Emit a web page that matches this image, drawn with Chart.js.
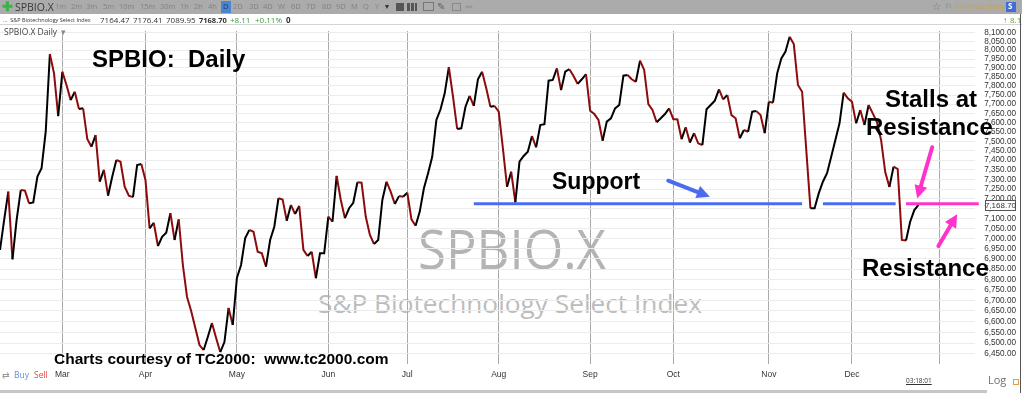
<!DOCTYPE html>
<html>
<head>
<meta charset="utf-8">
<script src="https://cdn.jsdelivr.net/npm/chart.js@4.4.1/dist/chart.umd.min.js"></script>
<style>
  body { margin: 0; width: 1022px; height: 393px; overflow: hidden; position: relative; background: #fff; font-family: "Open Sans", sans-serif; }
  .a { position: absolute; white-space: pre; line-height: 1; }
  #chart { position: absolute; left: 0; top: 0; z-index: 1; }
  .wm { color: #b4b4b4; z-index: 0; transform-origin: left top; }
  .note { font-family: "Liberation Sans", Arial, sans-serif; font-weight: bold; color: #000; z-index: 2; }
  .tb { top: 3px; font-size: 7.5px; color: #828282; z-index: 2; }
  .r2 { top: 16px; font-size: 8px; color: #333; z-index: 2; }
  .ic { position: absolute; top: 3px; height: 8px; z-index: 2; }
</style>
</head>
<body>
<!-- toolbar -->
<div class="a" style="left:0;top:0;width:1022px;height:14px;background:#ababab;z-index:1"></div>
<div class="a" style="left:2px;top:0px;font-size:13px;color:#3bb34a;font-weight:bold;z-index:2">✚</div>
<div class="a" style="left:15px;top:1.5px;font-size:10.5px;color:#3a3a3a;z-index:2">SPBIO.X</div>
<span class="a tb" style="left:55px">1m</span><span class="a tb" style="left:71px">2m</span><span class="a tb" style="left:86px">3m</span>
<span class="a tb" style="left:103px">5m</span><span class="a tb" style="left:119px">10m</span><span class="a tb" style="left:140px">15m</span>
<span class="a tb" style="left:160px">30m</span><span class="a tb" style="left:180px">1h</span><span class="a tb" style="left:194px">2h</span>
<span class="a tb" style="left:208px">4h</span>
<div class="a" style="left:221px;top:1px;width:10px;height:12px;background:#4a86d0;z-index:2"></div>
<span class="a tb" style="left:223px;color:#1d3b66">D</span>
<span class="a tb" style="left:233px">2D</span><span class="a tb" style="left:249px">3D</span><span class="a tb" style="left:263px">4D</span>
<span class="a tb" style="left:278px">W</span><span class="a tb" style="left:291px">6D</span><span class="a tb" style="left:306px">7D</span>
<span class="a tb" style="left:322px">8D</span><span class="a tb" style="left:336px">9D</span><span class="a tb" style="left:351px">M</span>
<span class="a tb" style="left:363px">Q</span><span class="a tb" style="left:375px">Y</span><span class="a tb" style="left:385px;color:#333">▾</span>
<div class="ic" style="left:396px;width:8px;background:#555"></div>
<div class="ic" style="left:407px;width:10px;background:linear-gradient(90deg,#555 0 3px,transparent 3px 4px,#555 4px 7px,transparent 7px 8px,#555 8px)"></div>
<div class="ic" style="left:423px;width:9px;border:1px solid #777;height:7px;top:2px"></div>
<div class="a" style="left:437px;top:1px;font-size:10px;color:#666;z-index:2">✎</div>
<div class="ic" style="left:452px;width:7px;border:1px solid #888;height:6px;top:3px"></div>
<div class="a" style="left:465px;top:1px;font-size:10px;color:#999;z-index:2">➦</div>
<div class="a" style="left:932px;top:1px;font-size:10px;color:#777;z-index:2">☆</div>
<div class="a" style="left:945px;top:2px;font-size:8px;color:#777;z-index:2">⚐</div>
<div class="a" style="left:955px;top:4px;font-size:6.5px;color:#c9a148;z-index:2">15-Minute Delayed</div>
<div class="a" style="left:1006px;top:2px;width:10px;height:10px;background:#3f6fd6;color:#fff;font-size:8px;font-weight:bold;z-index:2"> S</div>
<!-- quote row -->
<div class="a" style="left:0;top:24px;width:1022px;height:1px;background:#d4d4d4;z-index:2"></div>
<span class="a r2" style="left:3px;font-size:5.5px;top:18px">...  S&amp;P Biotechnology Select Index</span>
<span class="a r2" style="left:100px">7164.47</span><span class="a r2" style="left:133px">7176.41</span>
<span class="a r2" style="left:166px">7089.95</span><span class="a r2" style="left:199px;font-weight:bold;font-size:7.5px;top:16.5px">7168.70</span>
<span class="a r2" style="left:230px;color:#3a9c3a">+8.11</span><span class="a r2" style="left:255px;color:#3a9c3a">+0.11%</span>
<span class="a r2" style="left:286px;font-weight:bold">0</span>
<span class="a r2" style="left:1003px;color:#27b327;font-weight:bold">↑</span><span class="a r2" style="left:1010px;color:#6b9a2c">8.11</span>
<div class="a" style="left:4px;top:28px;font-size:8.5px;color:#444;z-index:2">SPBIO.X Daily  <span style="color:#888">▾</span></div>
<!-- watermark -->
<div class="a wm" id="wm1" style="left:418px;top:221px;font-size:54px">SPBIO.X</div>
<div class="a wm" id="wm2" style="left:318px;top:290px;font-size:26px;color:#bcbcbc">S&amp;P Biotechnology Select Index</div>
<canvas id="chart" width="1022" height="393"></canvas>
<!-- notes -->
<div class="a note" style="left:92px;top:47px;font-size:24px">SPBIO:  Daily</div>
<div class="a note" style="left:552px;top:170px;font-size:23px">Support</div>
<div class="a note" style="left:885px;top:87px;font-size:24px">Stalls at</div>
<div class="a note" style="left:866px;top:115px;font-size:24px">Resistance</div>
<div class="a note" style="left:862px;top:256px;font-size:24px">Resistance</div>
<div class="a note" style="left:54px;top:351px;font-size:15.5px">Charts courtesy of TC2000:  www.tc2000.com</div>
<!-- bottom strip -->
<div class="a" style="left:2px;top:370px;font-size:9px;color:#9a9a9a;z-index:2">⇄</div>
<div class="a" style="left:14px;top:371px;font-size:8.5px;color:#5b8fe0;z-index:2">Buy</div>
<div class="a" style="left:34px;top:371px;font-size:8.5px;color:#e64545;z-index:2">Sell</div>
<div class="a" style="left:906px;top:378px;font-size:6.5px;color:#333;text-decoration:underline;z-index:2">03:18:01</div>
<div class="a" style="left:988px;top:374px;font-size:11px;color:#707070;z-index:2">Log</div>
<div class="a" style="left:1013px;top:379px;width:4px;height:4px;border:1px solid #e0a040;z-index:2"></div>
<div class="a" style="left:0;top:390px;width:987px;height:3px;background:#c6c6c6;z-index:2"></div>
<div class="a" style="left:1020px;top:14px;width:1px;height:379px;background:#555;z-index:2"></div>

<script>
// daily closes, one per trading day
const closes = [
  6944, 7093, 7237, 6898, 7093, 7245, 7242, 7177, 7182, 7314,
  7358, 7551, 7979, 7870, 7635, 7879, 7805, 7722, 7768, 7673,
  7677, 7512, 7471, 7533, 7288, 7349, 7216, 7314, 7401, 7392,
  7262, 7216, 7209, 7375, 7380, 7297, 7051, 7079, 6963, 7009,
  7029, 7127, 6993, 7096, 6870, 6716, 6650, 6570, 6491, 6468,
  6528, 6593, 6524, 6459, 6505, 6664, 6584, 6807, 6870, 7003,
  7043, 7034, 6935, 6927, 6862, 6993, 7059, 7203, 7197, 7089,
  7169, 7123, 7164, 6944, 6914, 6935, 6806, 6927, 6927, 7110,
  7084, 7318, 7194, 7102, 7152, 7180, 7285, 7283, 7110, 7018,
  6973, 6993, 7194, 7288, 7237, 7174, 7214, 7211, 7231, 7096,
  7064, 7135, 7254, 7332, 7418, 7614, 7672, 7759, 7904, 7741,
  7566, 7569, 7686, 7745, 7690, 7837, 7879, 7787, 7686, 7690,
  7659, 7464, 7262, 7340, 7182, 7392, 7422, 7445, 7528, 7468,
  7587, 7591, 7829, 7833, 7898, 7777, 7879, 7893, 7855, 7811,
  7837, 7865, 7664, 7646, 7614, 7503, 7605, 7623, 7677, 7695,
  7857, 7861, 7837, 7823, 7941, 7889, 7700, 7668, 7602, 7623,
  7646, 7677, 7619, 7617, 7511, 7575, 7493, 7543, 7489, 7480,
  7672, 7695, 7719, 7781, 7726, 7750, 7640, 7623, 7516, 7560,
  7551, 7659, 7662, 7641, 7543, 7713, 7708, 7870, 7954, 7992,
  8077, 8035, 7805, 7768, 7454, 7152, 7152, 7228, 7288, 7332,
  7418, 7507, 7596, 7763, 7732, 7713, 7596, 7668, 7587, 7695,
  7650, 7603, 7507, 7338, 7261, 7366, 7354, 6993, 6990, 7084,
  7143, 7168.70
];
const lastClose = 7168.70;

// first trading day of each month (index into closes)
const monthStarts = [15, 35, 57, 79, 98, 120, 142, 162, 185, 205, 226];
const monthNames = ['Mar', 'Apr', 'May', 'Jun', 'Jul', 'Aug', 'Sep', 'Oct', 'Nov', 'Dec', ''];

const priceTicks = [
  6450, 6500, 6550, 6600, 6650, 6700, 6750, 6800, 6850, 6900, 6950, 7000,
  7050, 7100, 7150, 7200, 7250, 7300, 7350, 7400, 7450, 7500, 7550, 7600,
  7650, 7700, 7750, 7800, 7850, 7900, 7950, 8000, 8050, 8100
];

// hand-drawn markup
const supportLevel = 7175;
const supportRanges = [[114, 193], [198, 215.5]];
const resistanceRange = [218, 235.5];
const arrows = [
  { from: [160.8, 7293], to: [170.8, 7211], color: '#4a6cf2' },
  { from: [224.3, 7468], to: [220.7, 7202], color: '#ff33cc' },
  { from: [225.8, 6963], to: [230.3, 7122], color: '#ff33cc' }
];

const upColor = '#000000';
const downColor = '#8e0b0b';

function drawArrow(ctx, x0, y0, x1, y1, color) {
  const ang = Math.atan2(y1 - y0, x1 - x0);
  const headLen = 13, headW = 6.5;
  const bx = x1 - headLen * Math.cos(ang), by = y1 - headLen * Math.sin(ang);
  ctx.strokeStyle = color;
  ctx.fillStyle = color;
  ctx.lineWidth = 4;
  ctx.lineCap = 'round';
  ctx.beginPath();
  ctx.moveTo(x0, y0);
  ctx.lineTo(bx, by);
  ctx.stroke();
  ctx.beginPath();
  ctx.moveTo(x1, y1);
  ctx.lineTo(bx + headW * Math.sin(ang), by - headW * Math.cos(ang));
  ctx.lineTo(bx - headW * Math.sin(ang), by + headW * Math.cos(ang));
  ctx.closePath();
  ctx.fill();
}

const markup = {
  id: 'markup',
  afterDatasetsDraw(chart) {
    const { ctx, scales: { x, y } } = chart;
    ctx.save();
    const ly = y.getPixelForValue(supportLevel);
    ctx.lineWidth = 3;
    ctx.strokeStyle = '#4a6cf2';
    supportRanges.forEach(([a, b]) => {
      ctx.beginPath();
      ctx.moveTo(x.getPixelForValue(a), ly);
      ctx.lineTo(x.getPixelForValue(b), ly);
      ctx.stroke();
    });
    ctx.strokeStyle = '#ff33cc';
    ctx.beginPath();
    ctx.moveTo(x.getPixelForValue(resistanceRange[0]), ly);
    ctx.lineTo(x.getPixelForValue(resistanceRange[1]), ly);
    ctx.stroke();
    arrows.forEach(a => drawArrow(ctx,
      x.getPixelForValue(a.from[0]), y.getPixelForValue(a.from[1]),
      x.getPixelForValue(a.to[0]), y.getPixelForValue(a.to[1]), a.color));
    ctx.restore();
  },
  afterDraw(chart) {
    // current price tag on the axis
    const { ctx, scales: { y } } = chart;
    const py = Math.round(y.getPixelForValue(lastClose));
    ctx.save();
    ctx.fillStyle = '#fff';
    ctx.strokeStyle = '#555';
    ctx.lineWidth = 1;
    ctx.fillRect(985, py - 5, 31, 11);
    ctx.strokeRect(985.5, py - 4.5, 30, 10);
    ctx.fillStyle = '#333';
    ctx.font = '8px "Liberation Sans"';
    ctx.textAlign = 'center';
    ctx.textBaseline = 'middle';
    ctx.fillText(lastClose.toLocaleString('en-US', { minimumFractionDigits: 2 }), 1000.5, py + 0.5);
    ctx.restore();
  }
};

new Chart(document.getElementById('chart'), {
  type: 'line',
  data: {
    datasets: [{
      data: closes.map((c, i) => ({ x: i, y: c })),
      borderColor: upColor,
      borderWidth: 2,
      pointRadius: 0,
      tension: 0,
      segment: {
        borderColor: c => (c.p1.parsed.y < c.p0.parsed.y ? downColor : upColor)
      }
    }]
  },
  options: {
    responsive: false,
    animation: false,
    devicePixelRatio: 1,
    layout: { padding: { top: 31, right: 6, bottom: 0, left: 0 } },
    plugins: { legend: { display: false }, tooltip: { enabled: false } },
    scales: {
      x: {
        type: 'linear',
        min: 0,
        max: 234.6,
        grid: { color: '#a9a9a9', drawTicks: false },
        border: { display: false },
        afterBuildTicks: s => { s.ticks = monthStarts.map(v => ({ value: v })); },
        afterFit: s => { s.height = 29; },
        ticks: {
          autoSkip: false,
          maxRotation: 0,
          padding: 6,
          color: '#333',
          font: { family: 'Liberation Sans', size: 8.5 },
          callback: (v, i) => monthNames[i]
        }
      },
      y: {
        type: 'logarithmic',
        position: 'right',
        min: 6404.4,
        max: 8109.8,
        grid: { color: '#ececec', drawTicks: false },
        border: { display: false },
        afterBuildTicks: s => { s.ticks = priceTicks.map(v => ({ value: v })); },
        afterFit: s => { s.width = 41; },
        ticks: {
          autoSkip: false,
          crossAlign: 'far',
          padding: 9,
          color: '#333',
          font: { family: 'Liberation Sans', size: 8.2 },
          callback: v => v.toLocaleString('en-US', { minimumFractionDigits: 2, maximumFractionDigits: 2 })
        }
      }
    }
  },
  plugins: [markup]
});

// squeeze the watermark text to the width it has in the original
function fitWidth(id, w) {
  const el = document.getElementById(id);
  el.style.transform = 'scaleX(' + (w / el.getBoundingClientRect().width) + ')';
}
fitWidth('wm1', 188);
fitWidth('wm2', 384);
</script>
</body>
</html>
